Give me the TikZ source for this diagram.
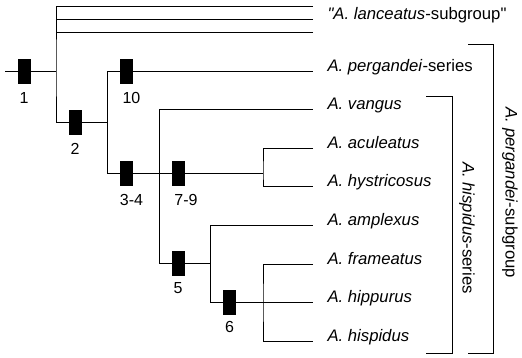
\documentclass[tikz,border=0pt]{standalone}
\usepackage{fontspec}
\setmainfont{Liberation Sans}
\usetikzlibrary{positioning}

\tikzset{
	apo/.style={fill=black, inner sep=0pt, minimum width=13pt, minimum height=25pt},
	num/.style={inner sep=0pt, font=\fontsize{16}{18}\selectfont},
	leaf/.style={anchor=base west, inner xsep=14pt, inner ysep=0pt, font=\fontsize{16.7}{19}\selectfont},
	grp/.style={rotate=-90, inner sep=0pt, font=\fontsize{16.7}{19}\selectfont}
}

\begin{document}
\begin{tikzpicture}[x=1pt, y=-1pt, line width=1pt]
		%%%%% START %%%%%
		\useasboundingbox (0,0) rectangle (522,358);
		
		% leaves
		\coordinate (la1) at (313, 7);
		\node[leaf] (la) at (313, 20) {\textit{\textquotedbl A. lanceatus}-subgroup\textquotedbl};
		\coordinate (la3) at (313, 33);
		\node[leaf] (pe) at (313, 71.5) {\textit{A. pergandei}-series};
		\node[leaf] (va) at (313, 110) {\textit{A. vangus}};
		\node[leaf] (ac) at (313, 148.5) {\textit{A. aculeatus}};
		\node[leaf] (hy) at (313, 187) {\textit{A. hystricosus}};
		\node[leaf] (am) at (313, 225.5) {\textit{A. amplexus}};
		\node[leaf] (fr) at (313, 264) {\textit{A. frameatus}};
		\node[leaf] (hip) at (313, 302.5) {\textit{A. hippurus}};
		\node[leaf] (his) at (313, 341) {\textit{A. hispidus}};
		
		% internal nodes
		\coordinate (r0) at (5, 71.5);
		\coordinate (n1) at (56, 71.5);
		\coordinate (n2) at (107, 123);
		\coordinate (n3) at (159, 173.5);
		\coordinate (n4) at (263, 173.5);
		\coordinate (n5) at (210, 263.5);
		\coordinate (n6) at (263, 302.5);
		
		% branches
		\draw (r0) -- (n1);
		\draw (la1) -| (n1) |- (n2);
		\draw (la.base west) -- (n1 |- la.base west);
		\draw (la3) -- (n1 |- la3);
		\draw (n2) |- (pe.base west);
		\draw (n2) |- (n3) -- (n4);
		\draw (n3) |- (va.base west);
		\draw (n3) |- (n5);
		\draw (ac.base west) -| (n4) |- (hy.base west);
		\draw (n5) |- (am.base west);
		\draw (n5) |- (n6) -- (hip.base west);
		\draw (fr.base west) -| (n6) |- (his.base west);
		
		% characters
		\node[apo] (m1) at (24, 71.5) {};
		\node[apo] (m2) at (75, 123) {};
		\node[apo] (m10) at (126.5, 71.5) {};
		\node[apo] (m34) at (126.5, 173.5) {};
		\node[apo] (m79) at (178, 173.5) {};
		\node[apo] (m5) at (178, 263.5) {};
		\node[apo] (m6) at (229.5, 302.5) {};
		
		\node[num, below=7pt of m1] (l1) {1};
		\node[num, below=7pt of m2] (l2) {2};
		\node[num, below=7pt of m10, xshift=5pt] (l10) {10};
		\node[num, below=7pt of m34, xshift=5pt] (l34) {3-4};
		\node[num, below=7pt of m79, xshift=8pt] (l79) {7-9};
		\node[num, below=5pt of m5] (l5) {5};
		\node[num, below=5pt of m6] (l6) {6};
		
		% groups
		\draw (426, 96.5) -| (452, 353) -- (426, 353);
		\draw (468, 45) -| (493, 353) -- (468, 353);
		\node[grp] (hs) at (467, 228) {\textit{A. hispidus}-series};
		\node[grp] (pg) at (510, 193) {\textit{A. pergandei}-subgroup};
		
		%%%%% END %%%%%
\end{tikzpicture}
\end{document}
